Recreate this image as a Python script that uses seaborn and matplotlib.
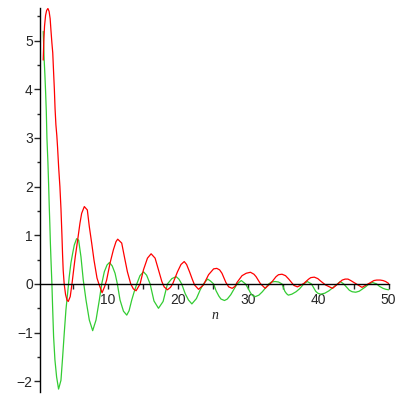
import numpy as np
import pandas as pd
import seaborn as sns
import matplotlib
matplotlib.use("Agg")
import matplotlib.pyplot as plt
from matplotlib.ticker import MultipleLocator

# red curve
red_n = [0.76, 0.85, 0.95, 1.1, 1.25, 1.43, 1.6, 1.75, 1.86, 2.0, 2.12, 2.24, 2.35, 2.45,
         2.57, 2.7, 2.81, 2.96, 3.14, 3.29, 3.43, 3.52, 3.61, 3.75, 3.95, 4.15, 4.33, 4.61,
         4.86, 5.1, 5.33, 5.62, 6.0, 6.24, 6.62, 7.05, 7.33, 7.67, 8.0, 8.43, 8.7, 9.15,
         9.5, 9.8, 10.29, 10.76, 11.14, 11.38, 11.95, 12.33, 12.76, 13.24, 13.6, 14.0,
         14.57, 15.05, 15.62, 16.14, 16.71, 17.19, 17.67, 18.0, 18.47, 18.9, 19.24, 19.9,
         20.4, 20.86, 21.2, 21.62, 22.0, 22.33, 22.9, 23.6, 24.33, 25.05, 25.5, 25.9,
         26.24, 26.8, 27.2, 27.7, 28.1, 28.38, 29.1, 29.7, 30.3, 30.8, 31.1, 31.7,
         32.4, 33.29, 33.95, 34.3, 34.8, 35.3, 35.76, 36.5, 37.0, 37.9, 38.6, 38.9,
         39.4, 39.9, 40.3, 41.0, 42.0, 42.67, 43.38, 43.8, 44.2, 44.6, 45.05, 46.2,
         47.19, 47.9, 48.3, 48.8, 49.2, 49.57, 50.0]
red_v = [4.6, 5.0, 5.3, 5.52, 5.62, 5.66, 5.6, 5.45, 5.22, 4.95, 4.75, 4.35, 4.0, 3.6,
         3.27, 3.05, 2.8, 2.4, 2.0, 1.55, 1.0, 0.6, 0.28, 0.0, -0.22, -0.33, -0.36, -0.26,
         0.0, 0.29, 0.56, 0.85, 1.25, 1.45, 1.59, 1.52, 1.18, 0.84, 0.49, 0.12, 0.0, -0.18,
         -0.06, 0.08, 0.43, 0.7, 0.87, 0.92, 0.84, 0.56, 0.25, 0.0, -0.1, -0.14,
         0.0, 0.29, 0.53, 0.62, 0.53, 0.29, 0.05, -0.06, -0.12, -0.07, 0.01, 0.25,
         0.4, 0.46, 0.4, 0.25, 0.1, -0.02, -0.11, -0.02, 0.19, 0.31, 0.32, 0.29,
         0.22, 0.03, -0.06, -0.09, -0.05, 0.03, 0.17, 0.22, 0.24, 0.2, 0.15, 0.01,
         -0.09, 0.03, 0.15, 0.19, 0.2, 0.17, 0.1, -0.03, -0.06, 0.01, 0.1, 0.13,
         0.14, 0.11, 0.06, -0.02, -0.09, -0.01, 0.08, 0.1, 0.1, 0.07, 0.03, -0.07,
         0.01, 0.07, 0.08, 0.08, 0.07, 0.05, 0.01]

# green curve
green_n = [0.76, 0.83, 0.9, 1.0, 1.1, 1.2, 1.29, 1.36, 1.43, 1.53, 1.62, 1.7, 1.78, 1.88,
           2.0, 2.1, 2.24, 2.43, 2.67, 2.95, 3.29, 3.53, 3.76, 4.0, 4.24, 4.47, 4.71,
           4.96, 5.19, 5.52, 5.81, 6.14, 6.47, 6.86, 7.33, 7.81, 8.29, 8.76, 9.1, 9.47,
           9.86, 10.2, 10.6, 11.0, 11.33, 11.71, 12.2, 12.67, 13.0, 13.38, 13.75, 14.1,
           14.55, 15.05, 15.5, 16.0, 16.55, 17.19, 17.85, 18.47, 19.1, 19.71, 20.1, 20.5,
           21.0, 21.47, 21.95, 22.6, 23.14, 23.6, 24.2, 24.6, 25.05, 25.4, 25.8, 26.1,
           26.6, 27.0, 27.5, 27.9, 28.4, 29.0, 29.6, 30.0, 30.3, 30.6, 31.0, 31.5, 32.0,
           32.4, 32.9, 33.3, 33.8, 34.3, 34.8, 35.2, 35.45, 35.7, 36.2, 36.8, 37.3, 37.9,
           38.4, 39.0, 39.6, 39.9, 40.3, 40.9, 41.5, 42.1, 42.7, 43.1, 43.6, 44.4, 44.8,
           45.3, 45.8, 46.3, 46.7, 47.2, 47.7, 48.3, 48.7, 49.2, 49.6, 50.0]
green_v = [5.19, 4.9, 4.6, 4.3, 3.95, 3.55, 3.0, 2.75, 2.5, 2.05, 1.6, 1.25, 0.85, 0.45,
           0.0, -0.47, -1.08, -1.56, -1.91, -2.16, -1.98, -1.5, -1.01, -0.53, -0.19, 0.15, 0.43,
           0.63, 0.8, 0.93, 0.9, 0.56, 0.08, -0.33, -0.74, -0.96, -0.74, -0.33, 0.0, 0.25,
           0.39, 0.44, 0.37, 0.22, 0.0, -0.33, -0.56, -0.64, -0.55, -0.33, -0.15, 0.0,
           0.17, 0.25, 0.18, 0.0, -0.35, -0.5, -0.36, 0.0, 0.11, 0.15, 0.1, 0.0,
           -0.2, -0.33, -0.41, -0.3, -0.12, 0.0, 0.1, 0.06, 0.0, -0.14, -0.25, -0.31,
           -0.34, -0.31, -0.22, -0.12, 0.0, 0.07, 0.0, -0.1, -0.18, -0.24, -0.26, -0.23, -0.16,
           -0.09, 0.0, 0.04, 0.05, 0.04, 0.0, -0.15, -0.2, -0.23, -0.21, -0.16, -0.1, 0.0,
           0.05, 0.0, -0.15, -0.19, -0.21, -0.19, -0.14, -0.07, 0.0, 0.05, 0.0, -0.13, -0.16,
           -0.17, -0.15, -0.1, -0.06, 0.0, 0.03, 0.0, -0.05, -0.09, -0.11, -0.12]

sns.set_style("white")
plt.rcParams['font.family'] = ['Liberation Sans', 'DejaVu Sans']

fig = plt.figure(figsize=(4, 4), dpi=100)
ax = fig.add_axes([0.101, 0.02, 0.8715, 0.96])

sns.lineplot(x=green_n, y=green_v, color="#33cc33", linewidth=0.9, estimator=None, ax=ax)
sns.lineplot(x=red_n, y=red_v, color="#ff0000", linewidth=0.9, estimator=None, ax=ax)

ax.set_xlim(0.36, 50.05)
ax.set_ylim(-2.22, 5.67)

# axes through the origin, Maple style
ax.spines['bottom'].set_position(('data', 0))
ax.spines['top'].set_visible(False)
ax.spines['right'].set_visible(False)
for s in ['left', 'bottom']:
    ax.spines[s].set_color('black')
    ax.spines[s].set_linewidth(1.0)

ax.set_xticks([10, 20, 30, 40, 50])
ax.xaxis.set_minor_locator(MultipleLocator(5))
ax.set_yticks([-2, -1, 0, 1, 2, 3, 4, 5])
ax.set_yticklabels(['\u22122', '\u22121', '0', '1', '2', '3', '4', '5'])
ax.yaxis.set_minor_locator(MultipleLocator(0.5))

ax.tick_params(axis='x', which='both', direction='out', length=3.5, width=1,
               pad=3, labelsize=10, bottom=True)
ax.tick_params(axis='y', which='major', direction='out', length=4.5, width=1,
               pad=1, labelsize=10, left=True)
ax.tick_params(axis='y', which='minor', direction='out', length=2.5, width=1, left=True)

ax.set_xlabel('')
ax.set_ylabel('')
ax.text(25.3, -0.64, 'n', fontsize=10, style='italic', family='Liberation Serif',
        ha='center', va='center')

fig.savefig("out.png", dpi=100)
